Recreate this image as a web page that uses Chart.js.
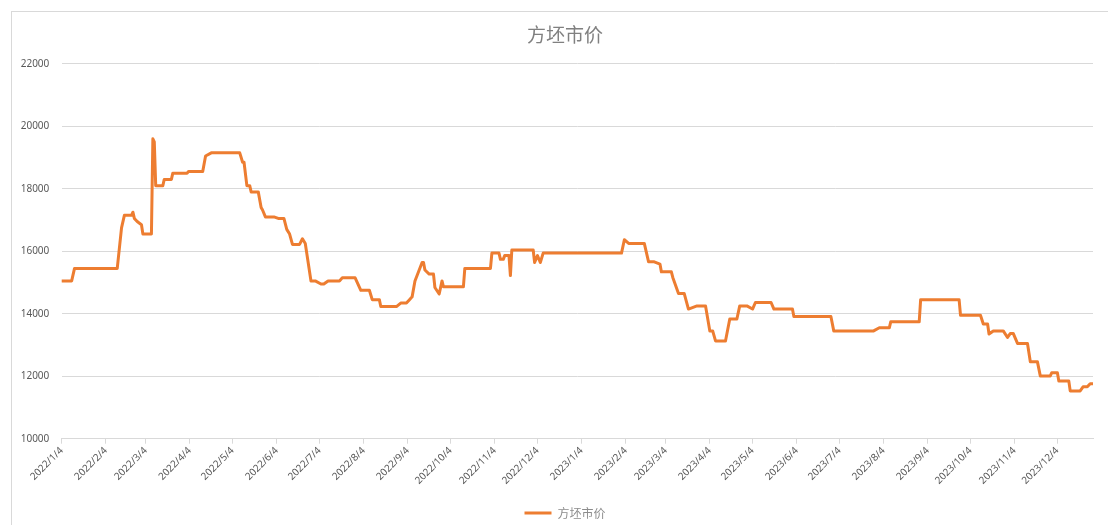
<!DOCTYPE html>
<html>
<head>
<meta charset="utf-8">
<script src="https://cdn.jsdelivr.net/npm/chart.js@4/dist/chart.umd.min.js"></script>
<style>
html,body{margin:0;padding:0;background:#fff;}
#wrap{width:1108px;height:525px;position:relative;}
</style>
</head>
<body>
<div id="wrap"><canvas id="c" width="1108" height="525"></canvas></div>
<script>
// ---- data ----
const seriesName = '方坯市价';
const dates = [
'2022-01-04','2022-01-11','2022-01-13','2022-02-12','2022-02-15','2022-02-17','2022-02-22','2022-02-23','2022-02-24','2022-02-26',
'2022-03-01','2022-03-02','2022-03-08','2022-03-09','2022-03-10','2022-03-11','2022-03-16','2022-03-17','2022-03-22','2022-03-23',
'2022-04-02','2022-04-03','2022-04-13','2022-04-15','2022-04-19','2022-05-09','2022-05-11','2022-05-12','2022-05-14','2022-05-16',
'2022-05-17','2022-05-22','2022-05-24','2022-05-25','2022-05-27','2022-06-02','2022-06-05','2022-06-09','2022-06-11','2022-06-13',
'2022-06-15','2022-06-20','2022-06-22','2022-06-24','2022-06-28','2022-07-01','2022-07-05','2022-07-07','2022-07-10','2022-07-18',
'2022-07-20','2022-07-29','2022-08-02','2022-08-08','2022-08-10','2022-08-15','2022-08-16','2022-08-27','2022-08-30','2022-09-03',
'2022-09-05','2022-09-07','2022-09-09','2022-09-14','2022-09-15','2022-09-16','2022-09-19','2022-09-22','2022-09-23','2022-09-26',
'2022-09-28','2022-09-29','2022-10-13','2022-10-14','2022-11-01','2022-11-02','2022-11-07','2022-11-08','2022-11-10','2022-11-11',
'2022-11-14','2022-11-15','2022-11-16','2022-12-01','2022-12-02','2022-12-04','2022-12-06','2022-12-08','2023-02-01','2023-02-03',
'2023-02-06','2023-02-17','2023-02-20','2023-02-24','2023-02-28','2023-03-01','2023-03-08','2023-03-09','2023-03-13','2023-03-17',
'2023-03-20','2023-03-26','2023-04-01','2023-04-04','2023-04-06','2023-04-08','2023-04-15','2023-04-18','2023-04-23','2023-04-25',
'2023-04-30','2023-05-04','2023-05-06','2023-05-17','2023-05-19','2023-06-01','2023-06-02','2023-06-28','2023-06-30','2023-07-28',
'2023-08-01','2023-08-08','2023-08-09','2023-08-29','2023-08-30','2023-09-26','2023-09-27','2023-10-11','2023-10-13','2023-10-16',
'2023-10-17','2023-10-20','2023-10-27','2023-10-30','2023-11-01','2023-11-03','2023-11-06','2023-11-13','2023-11-15','2023-11-20',
'2023-11-22','2023-11-29','2023-11-30','2023-12-04','2023-12-05','2023-12-12','2023-12-13','2023-12-20','2023-12-22','2023-12-25',
'2023-12-27','2023-12-29'
];
const prices = [
15050,15050,15450,15450,16750,17150,17150,17250,17050,16950,
16850,16550,16550,19600,19500,18100,18100,18300,18300,18500,
18500,18550,18550,19050,19150,19150,18850,18850,18100,18100,
17900,17900,17400,17320,17100,17100,17050,17050,16700,16550,
16220,16220,16400,16250,15050,15050,14950,14950,15050,15050,
15150,15150,14750,14750,14450,14450,14230,14230,14340,14340,
14440,14540,15050,15640,15640,15400,15270,15270,14840,14630,
15050,14860,14860,15450,15450,15940,15940,15740,15740,15860,
15860,15220,16040,16040,15640,15860,15640,15940,15940,16370,
16250,16250,15660,15660,15590,15340,15340,15160,14650,14650,
14150,14250,14250,13450,13450,13130,13130,13830,13830,14250,
14250,14150,14360,14360,14150,14150,13910,13910,13450,13450,
13550,13550,13740,13740,14450,14450,13950,13950,13670,13670,
13350,13450,13450,13240,13370,13370,13050,13050,12460,12460,
12010,12010,12110,12110,11850,11850,11530,11530,11660,11660,
11760,11760
];
const tickDates = [
'2022-01-04','2022-02-04','2022-03-04','2022-04-04','2022-05-04','2022-06-04','2022-07-04','2022-08-04',
'2022-09-04','2022-10-04','2022-11-04','2022-12-04','2023-01-04','2023-02-04','2023-03-04','2023-04-04',
'2023-05-04','2023-06-04','2023-07-04','2023-08-04','2023-09-04','2023-10-04','2023-11-04','2023-12-04'
];
const yMin = 10000, yMax = 22000, yStep = 2000;

// ---- helpers ----
const DAY = 86400000;
function toUTC(s){ const p = s.split('-').map(Number); return Date.UTC(p[0], p[1]-1, p[2]); }
const base = toUTC(dates[0]);
function dayOf(s){ return Math.round((toUTC(s) - base) / DAY); }
function labelOf(day){
  const d = new Date(base + day * DAY);
  return d.getUTCFullYear() + '/' + (d.getUTCMonth()+1) + '/' + d.getUTCDate();
}
const points = dates.map((d, i) => ({x: dayOf(d), y: prices[i]}));
const tickDays = tickDates.map(dayOf);

const ORANGE = '#ED7D31';
const GRID = '#d9d9d9';

const borderPlugin = {
  id: 'outerBorder',
  beforeDraw(chart){
    const ctx = chart.ctx;
    ctx.save();
    ctx.fillStyle = '#ffffff';
    ctx.fillRect(0, 0, chart.width, chart.height);
    ctx.strokeStyle = GRID;
    ctx.lineWidth = 1;
    ctx.strokeRect(11.5, 11.5, 1200, 700);
    ctx.restore();
  }
};

new Chart(document.getElementById('c'), {
  type: 'line',
  data: {
    datasets: [{
      label: seriesName,
      data: points,
      borderColor: ORANGE,
      backgroundColor: ORANGE,
      borderWidth: 3,
      pointRadius: 0,
      pointHoverRadius: 0,
      tension: 0,
      fill: false,
      borderJoinStyle: 'round',
      borderCapStyle: 'round'
    }]
  },
  options: {
    responsive: false,
    animation: false,
    devicePixelRatio: 1,
    layout: { padding: { left: 37, right: 15, top: 0, bottom: -4 } },
    plugins: {
      title: {
        display: true,
        text: seriesName,
        color: '#808080',
        font: { family: '"Noto Sans CJK SC", sans-serif', size: 19, weight: 'normal' },
        padding: { top: 23, bottom: 18 }
      },
      legend: {
        display: true,
        position: 'bottom',
        labels: {
          color: '#8c8c8c',
          font: { family: '"Noto Sans CJK SC", sans-serif', size: 12 },
          usePointStyle: true,
          pointStyle: 'line',
          pointStyleWidth: 27,
          boxHeight: 12,
          padding: 2
        }
      },
      tooltip: { enabled: false }
    },
    scales: {
      x: {
        type: 'linear',
        min: 0,
        max: points[points.length-1].x,
        afterBuildTicks(scale){ scale.ticks = tickDays.map(v => ({value: v})); },
        afterFit(scale){ scale.height = 66.3; },
        ticks: {
          autoSkip: false,
          maxRotation: 45,
          minRotation: 45,
          color: '#595959',
          font: { family: '"Noto Sans", sans-serif', size: 10 },
          padding: 1,
          callback: (v) => labelOf(v)
        },
        grid: {
          drawOnChartArea: false,
          drawTicks: true,
          tickLength: 5,
          color: GRID
        },
        border: { display: true, color: GRID, width: 1 }
      },
      y: {
        min: yMin,
        max: yMax,
        afterFit(scale){ scale.width = 24.7; },
        ticks: {
          stepSize: yStep,
          mirror: true,
          padding: -41,
          color: '#595959',
          font: { family: '"Noto Sans", sans-serif', size: 10 },
          callback: (v) => String(v)
        },
        grid: { color: GRID, drawTicks: false, lineWidth: 1 },
        border: { display: false }
      }
    }
  },
  plugins: [borderPlugin]
});
</script>
</body>
</html>
